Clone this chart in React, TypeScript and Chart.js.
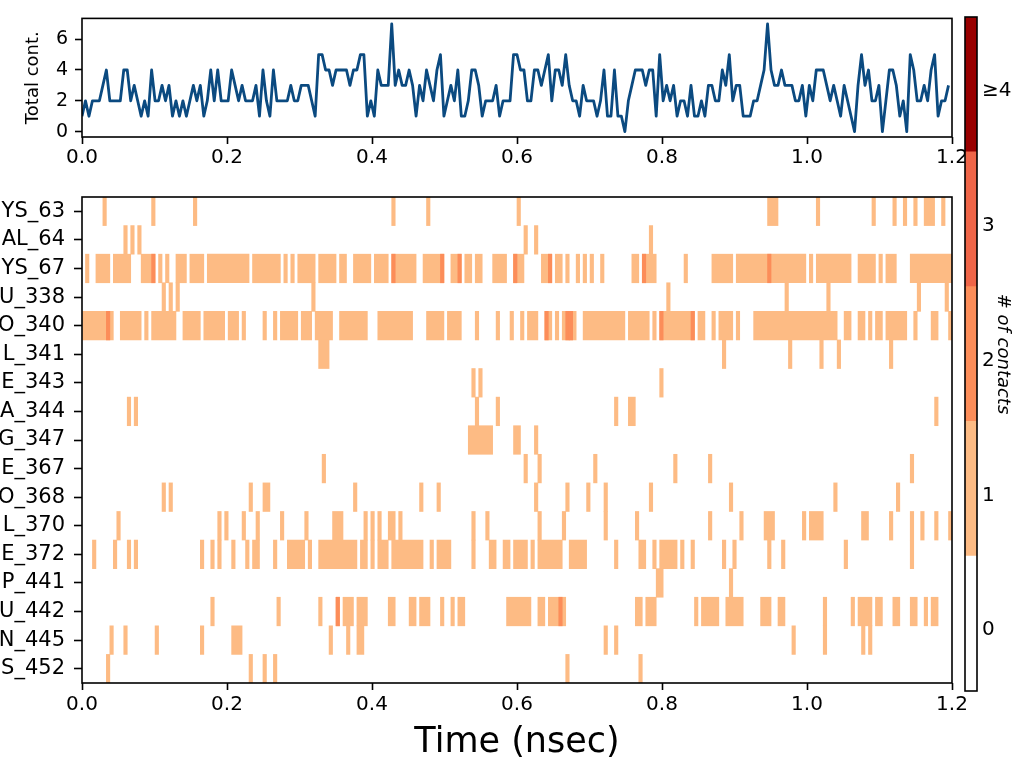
import React, { useEffect, useRef } from 'react';
import { Chart, registerables } from 'chart.js';

Chart.register(...registerables);

// ---------------- data ----------------
const FRAME_NS = 0.0048; // one trajectory frame
const X_TICKS = [0, 0.2, 0.4, 0.6, 0.8, 1.0, 1.2];
const TOTAL_TICKS = [0, 2, 4, 6];

// total number of contacts per frame (250 frames)
const TOTAL_CONTACTS = [
  1, 2, 1, 2, 2, 2, 3, 4, 2, 2,
  2, 2, 4, 4, 2, 3, 2, 1, 2, 1,
  4, 2, 2, 3, 2, 3, 1, 2, 1, 2,
  1, 2, 3, 2, 3, 1, 2, 4, 2, 4,
  2, 2, 2, 4, 3, 2, 3, 2, 2, 2,
  3, 1, 4, 2, 1, 4, 2, 2, 2, 2,
  3, 2, 2, 3, 3, 3, 2, 1, 5, 5,
  4, 4, 3, 4, 4, 4, 4, 3, 4, 4,
  5, 5, 1, 2, 1, 4, 3, 3, 3, 7,
  3, 4, 3, 3, 4, 3, 1, 3, 2, 4,
  3, 2, 4, 5, 1, 2, 3, 2, 4, 1,
  1, 2, 4, 4, 3, 1, 2, 2, 2, 3,
  1, 2, 2, 2, 5, 5, 4, 4, 2, 2,
  4, 4, 3, 4, 5, 2, 4, 4, 3, 5,
  3, 2, 2, 1, 3, 2, 2, 2, 1, 2,
  4, 1, 1, 4, 1, 1, 0, 2, 3, 4,
  4, 4, 3, 4, 4, 1, 5, 2, 3, 2,
  3, 1, 2, 2, 1, 3, 1, 1, 2, 1,
  3, 3, 2, 2, 4, 3, 5, 2, 3, 3,
  1, 1, 1, 2, 2, 3, 4, 7, 4, 3,
  3, 4, 3, 3, 3, 2, 2, 3, 1, 3,
  2, 4, 4, 4, 3, 2, 3, 2, 1, 3,
  2, 1, 0, 3, 5, 3, 4, 2, 2, 3,
  0, 2, 4, 4, 3, 1, 2, 0, 5, 4,
  2, 2, 3, 2, 4, 5, 1, 2, 2, 3,
];

// residues (as visible, labels are cut at the left edge)
const RESIDUES = [
  'YS_63', 'AL_64', 'YS_67', 'U_338', 'O_340', 'L_341', 'E_343', 'A_344', 'G_347',
  'E_367', 'O_368', 'L_370', 'E_372', 'P_441', 'U_442', 'N_445', 'S_452',
];

// contact runs per residue: [first frame, last frame]
const RUNS_YS_63 = [[6, 6], [20, 20], [32, 32], [89, 89], [99, 99], [125, 125], [197, 199], [211, 211], [227, 227], [233, 233], [236, 236], [239, 239], [242, 244], [247, 247]];
const RUNS_AL_64 = [[12, 12], [14, 14], [16, 16], [127, 127], [130, 130], [163, 163]];
const RUNS_YS_67 = [[1, 1], [4, 7], [9, 13], [17, 20], [22, 22], [24, 24], [27, 29], [31, 34], [36, 47], [49, 56], [58, 58], [60, 60], [62, 66], [68, 72], [74, 75], [78, 82], [84, 87], [89, 95], [98, 103], [106, 108], [110, 111], [113, 114], [118, 121], [124, 126], [132, 134], [136, 137], [139, 139], [142, 142], [144, 144], [146, 146], [149, 149], [158, 159], [161, 164], [173, 173], [181, 186], [188, 207], [209, 209], [211, 220], [223, 227], [229, 229], [231, 233], [238, 249]];
const RUNS_U_338 = [[23, 23], [25, 25], [27, 27], [66, 66], [168, 168], [202, 202], [214, 214], [240, 240], [248, 248]];
const RUNS_O_340 = [[0, 8], [11, 16], [18, 18], [20, 26], [29, 33], [35, 40], [42, 44], [46, 46], [52, 52], [55, 55], [57, 61], [63, 65], [67, 71], [74, 81], [85, 94], [99, 103], [105, 108], [113, 113], [119, 119], [123, 123], [126, 126], [128, 130], [133, 134], [136, 136], [138, 141], [144, 155], [157, 162], [164, 164], [166, 175], [177, 178], [181, 181], [183, 186], [188, 188], [193, 216], [219, 220], [223, 224], [226, 226], [228, 229], [231, 236], [239, 239], [244, 245], [249, 249]];
const RUNS_L_341 = [[68, 70], [184, 184], [203, 203], [212, 212], [217, 217], [232, 232]];
const RUNS_E_343 = [[112, 112], [114, 114], [166, 166]];
const RUNS_A_344 = [[13, 13], [15, 15], [113, 113], [119, 119], [153, 153], [157, 158], [245, 245]];
const RUNS_G_347 = [[111, 117], [124, 125], [130, 130]];
const RUNS_E_367 = [[69, 69], [127, 127], [131, 131], [147, 147], [170, 170], [180, 180], [238, 238]];
const RUNS_O_368 = [[23, 23], [25, 25], [48, 48], [52, 53], [78, 78], [97, 97], [102, 102], [130, 130], [139, 139], [145, 145], [150, 150], [163, 163], [186, 186], [216, 216], [234, 234]];
const RUNS_L_370 = [[10, 10], [39, 39], [41, 41], [46, 46], [50, 50], [57, 57], [64, 64], [72, 74], [81, 81], [83, 83], [85, 85], [88, 89], [91, 91], [112, 112], [116, 116], [131, 131], [138, 138], [150, 150], [159, 159], [180, 180], [189, 189], [196, 198], [207, 207], [209, 212], [224, 225], [232, 232], [238, 238], [241, 241], [245, 245], [249, 249]];
const RUNS_E_372 = [[3, 3], [9, 9], [13, 13], [15, 15], [34, 34], [37, 37], [39, 39], [43, 43], [47, 47], [49, 50], [55, 55], [59, 63], [65, 65], [68, 78], [80, 81], [83, 83], [85, 87], [89, 97], [100, 100], [102, 105], [112, 112], [117, 118], [121, 122], [124, 127], [129, 129], [131, 137], [140, 144], [153, 153], [160, 161], [164, 164], [166, 170], [172, 172], [175, 175], [184, 184], [187, 187], [197, 197], [201, 201], [219, 219], [238, 238]];
const RUNS_P_441 = [[165, 166], [186, 186]];
const RUNS_U_442 = [[37, 37], [56, 56], [68, 68], [73, 73], [75, 77], [79, 81], [88, 89], [94, 95], [97, 99], [103, 103], [106, 106], [108, 109], [122, 128], [131, 132], [134, 138], [159, 160], [162, 164], [176, 176], [178, 182], [185, 189], [195, 197], [200, 201], [213, 213], [221, 221], [223, 226], [228, 229], [233, 234], [238, 239], [242, 242], [244, 245]];
const RUNS_N_445 = [[8, 8], [12, 12], [21, 21], [34, 34], [43, 45], [71, 71], [76, 76], [79, 80], [150, 150], [153, 153], [204, 204], [213, 213], [224, 224], [226, 226]];
const RUNS_S_452 = [[7, 7], [48, 48], [52, 52], [55, 55], [139, 139], [160, 160]];

// frames in which a residue has 2 contacts: [residue, frame]
const DOUBLE_CONTACTS: [string, number][] = [
  ['YS_67', 20], ['YS_67', 89], ['YS_67', 103], ['YS_67', 108], ['YS_67', 124], ['YS_67', 134], ['YS_67', 161], ['YS_67', 197],
  ['O_340', 7], ['O_340', 133], ['O_340', 139], ['O_340', 140], ['O_340', 166], ['O_340', 175],
  ['U_442', 73], ['U_442', 137],
];

const COLORBAR_LEVELS = [0, 1, 2, 3, 4];
const COLORBAR_LABELS = ['0', '1', '2', '3', '\u22654'];
const LEVEL_COLORS = ['#ffffff', '#fdbb84', '#fc8d59', '#ef6548', '#990000'];
const LINE_COLOR = '#0b4a80';

const ROW_RUNS = [
  RUNS_YS_63, RUNS_AL_64, RUNS_YS_67, RUNS_U_338, RUNS_O_340, RUNS_L_341, RUNS_E_343, RUNS_A_344, RUNS_G_347,
  RUNS_E_367, RUNS_O_368, RUNS_L_370, RUNS_E_372, RUNS_P_441, RUNS_U_442, RUNS_N_445, RUNS_S_452,
];

// ---------------- helpers ----------------
const FONT = "'DejaVu Sans', 'Liberation Sans', sans-serif";

const framePlugin = {
  id: 'frame',
  afterDatasetsDraw(chart: any) {
    const { ctx, chartArea } = chart;
    const { left, top, right, bottom } = chartArea;
    ctx.save();
    ctx.strokeStyle = '#000';
    ctx.lineWidth = 1.6;
    ctx.strokeRect(left, top, right - left, bottom - top);
    ctx.restore();
  },
};

const tickGrid = (len: number) => ({
  display: true,
  drawOnChartArea: false,
  drawTicks: true,
  tickLength: len,
  tickColor: '#000',
  tickWidth: 1.6,
});

export default function App() {
  const lineRef = useRef<HTMLCanvasElement>(null);
  const heatRef = useRef<HTMLCanvasElement>(null);
  const barRef = useRef<HTMLCanvasElement>(null);

  useEffect(() => {
    Chart.defaults.font.family = FONT;
    Chart.defaults.color = '#000';

    // ----- top: total contacts -----
    const lineChart = new Chart(lineRef.current as HTMLCanvasElement, {
      type: 'line',
      data: {
        datasets: [
          {
            data: TOTAL_CONTACTS.map((v, i) => ({ x: i * FRAME_NS, y: v })),
            borderColor: LINE_COLOR,
            borderWidth: 2.8,
            pointRadius: 0,
            tension: 0,
            fill: false,
            borderJoinStyle: 'round',
          },
        ],
      },
      options: {
        animation: false,
        responsive: false,
        events: [],
        layout: { padding: { left: 0, top: 15, right: 72, bottom: 768 - 137 - 40 } },
        plugins: { legend: { display: false }, tooltip: { enabled: false } },
        scales: {
          x: {
            type: 'linear',
            min: 0,
            max: 1.2,
            afterBuildTicks: (s: any) => {
              s.ticks = X_TICKS.map((value) => ({ value }));
            },
            afterFit: (s: any) => {
              s.height = 40;
            },
            ticks: {
              callback: (v: any) => Number(v).toFixed(1),
              font: { size: 20 },
              color: '#000',
              padding: 2,
              maxRotation: 0,
              autoSkip: false,
            },
            grid: tickGrid(7),
            border: { display: false },
          },
          y: {
            type: 'linear',
            min: -0.35,
            max: 7.35,
            afterBuildTicks: (s: any) => {
              s.ticks = TOTAL_TICKS.map((value) => ({ value }));
            },
            afterFit: (s: any) => {
              s.width = 82;
            },
            ticks: {
              callback: (v: any) => String(v),
              font: { size: 19 },
              color: '#000',
              padding: 7,
              autoSkip: false,
            },
            grid: tickGrid(7),
            border: { display: false },
            title: {
              display: true,
              text: 'Total cont.',
              font: { size: 18 },
              color: '#000',
              padding: { top: 22.7, bottom: 0 },
            },
          },
        },
      },
      plugins: [framePlugin],
    } as any);

    // ----- bottom: contact map -----
    const cells: any[] = [];
    RESIDUES.forEach((res, k) => {
      ROW_RUNS[k].forEach(([s, e]) => {
        cells.push({ x: [s * FRAME_NS, (e + 1) * FRAME_NS], y: res, v: 1 });
      });
    });
    DOUBLE_CONTACTS.forEach(([res, f]) => {
      cells.push({ x: [f * FRAME_NS, (f + 1) * FRAME_NS], y: res, v: 2 });
    });

    const heatChart = new Chart(heatRef.current as HTMLCanvasElement, {
      type: 'bar',
      data: {
        labels: RESIDUES,
        datasets: [
          {
            data: cells,
            backgroundColor: (ctx: any) => LEVEL_COLORS[(ctx.raw && ctx.raw.v) || 1],
            borderWidth: 0,
            barPercentage: 1,
            categoryPercentage: 1,
          },
        ],
      },
      options: {
        indexAxis: 'y',
        animation: false,
        responsive: false,
        events: [],
        layout: { padding: { left: 0, top: 197, right: 72, bottom: 0 } },
        plugins: { legend: { display: false }, tooltip: { enabled: false } },
        scales: {
          x: {
            type: 'linear',
            min: 0,
            max: 1.2,
            afterBuildTicks: (s: any) => {
              s.ticks = X_TICKS.map((value) => ({ value }));
            },
            afterFit: (s: any) => {
              s.height = 768 - 683;
            },
            ticks: {
              callback: (v: any) => Number(v).toFixed(1),
              font: { size: 20 },
              color: '#000',
              padding: 3,
              maxRotation: 0,
              autoSkip: false,
            },
            grid: tickGrid(7),
            border: { display: false },
            title: {
              display: true,
              text: 'Time (nsec)',
              font: { size: 35 },
              color: '#000',
              padding: { top: 0, bottom: 4 },
            },
          },
          y: {
            type: 'category',
            offset: true,
            afterFit: (s: any) => {
              s.width = 82;
            },
            ticks: {
              font: { size: 21 },
              color: '#000',
              padding: 9,
              autoSkip: false,
            },
            grid: { ...tickGrid(8), offset: false },
            border: { display: false },
          },
        },
      },
      plugins: [framePlugin],
    } as any);

    // ----- colour bar -----
    const barChart = new Chart(barRef.current as HTMLCanvasElement, {
      type: 'bar',
      data: {
        labels: [''],
        datasets: COLORBAR_LEVELS.map((lvl) => ({
          data: [1],
          backgroundColor: LEVEL_COLORS[lvl],
          borderWidth: 0,
          barPercentage: 1,
          categoryPercentage: 1,
        })),
      },
      options: {
        animation: false,
        responsive: false,
        events: [],
        layout: { padding: { left: 965, top: 15, right: 0, bottom: 768 - 691 } },
        plugins: { legend: { display: false }, tooltip: { enabled: false } },
        scales: {
          x: { display: false, stacked: true },
          y: {
            position: 'right',
            stacked: true,
            min: 0,
            max: 5,
            afterBuildTicks: (s: any) => {
              s.ticks = COLORBAR_LEVELS.map((lvl) => ({ value: lvl + 0.5 }));
            },
            afterFit: (s: any) => {
              s.width = 1024 - 977;
            },
            ticks: {
              callback: (_v: any, i: number) => COLORBAR_LABELS[i],
              font: { size: 20 },
              color: '#000',
              padding: 5,
              labelOffset: 6.5,
              autoSkip: false,
            },
            grid: { display: false, drawTicks: false },
            border: { display: false },
            title: {
              display: true,
              text: '# of contacts',
              font: { size: 18, style: 'italic' },
              color: '#000',
              padding: { top: 11, bottom: 0 },
            },
          },
        },
      },
      plugins: [framePlugin],
    } as any);

    return () => {
      lineChart.destroy();
      heatChart.destroy();
      barChart.destroy();
    };
  }, []);

  const cs: React.CSSProperties = { position: 'absolute', left: 0, top: 0 };
  return (
    <div style={{ position: 'absolute', left: 0, top: 0, width: 1024, height: 768, background: '#fff', overflow: 'hidden' }}>
      <canvas ref={lineRef} width={1024} height={768} style={cs} />
      <canvas ref={heatRef} width={1024} height={768} style={cs} />
      <canvas ref={barRef} width={1024} height={768} style={cs} />
    </div>
  );
}
